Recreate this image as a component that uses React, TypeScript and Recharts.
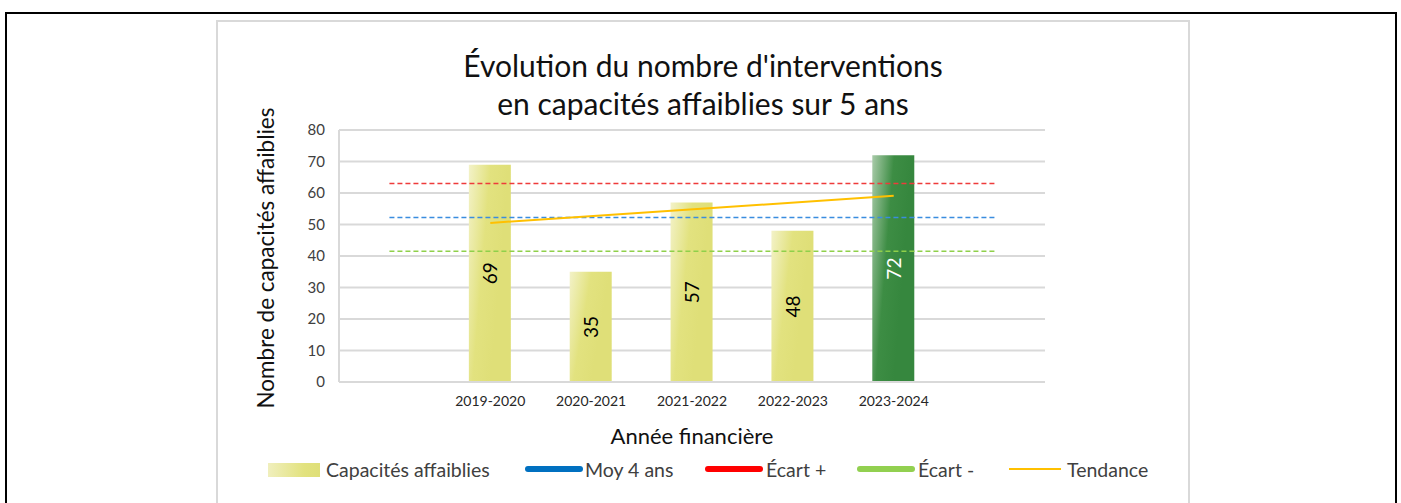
import React from 'react';
import { ComposedChart, Bar, Line, XAxis, YAxis, CartesianGrid, Cell, LabelList } from 'recharts';

const categories = ['', '2019-2020', '2020-2021', '2021-2022', '2022-2023', '2023-2024', ''];
const capacites = [null, 69, 35, 57, 48, 72, null];
const moy4ans = [52.25, 52.25, 52.25, 52.25, 52.25, 52.25, 52.25];
const ecartPlus = [63, 63, 63, 63, 63, 63, 63];
const ecartMoins = [41.5, 41.5, 41.5, 41.5, 41.5, 41.5, 41.5];
const tendance = [null, 50.5, null, null, null, 59.1, null];
const yTicks = [0, 10, 20, 30, 40, 50, 60, 70, 80];
const highlightCategory = '2023-2024';

const data = categories.map((c, i) => ({
  cat: c,
  capacites: capacites[i],
  moy: moy4ans[i],
  plus: ecartPlus[i],
  moins: ecartMoins[i],
  tendance: tendance[i],
}));

const FONT = 'Lato, "Open Sans", sans-serif';

const renderLabel = (props: any) => {
  const { x, y, width, height, value, index } = props;
  if (value == null) return null;
  const cx = Number(x) + Number(width) / 2;
  const cy = Number(y) + Number(height) / 2;
  const isHighlight = index === 5 || value === capacites[5];
  return (
    <text
      x={cx}
      y={cy}
      transform={`rotate(-90 ${cx} ${cy})`}
      textAnchor="middle"
      dominantBaseline="central"
      fontSize={19}
      fontFamily={FONT}
      fill={isHighlight ? '#ffffff' : '#000000'}
    >
      {value}
    </text>
  );
};

const legendItems = [
  { label: 'Capacités affaiblies', kind: 'bar', color: '#e0e07a', left: 268, textLeft: 326 },
  { label: 'Moy 4 ans', kind: 'thick', color: '#0070c0', left: 525, textLeft: 585 },
  { label: 'Écart +', kind: 'thick', color: '#ff0000', left: 705, textLeft: 766 },
  { label: 'Écart -', kind: 'thick', color: '#92d050', left: 857, textLeft: 918 },
  { label: 'Tendance', kind: 'thin', color: '#ffc000', left: 1009, textLeft: 1067 },
];

export default function App() {
  return (
    <div style={{ position: 'absolute', left: 0, top: 0, width: 1401, height: 503, overflow: 'hidden', background: '#ffffff', fontFamily: FONT }}>
      <div style={{ position: 'absolute', left: 5, top: 12, width: 1392, height: 560, border: '2px solid #000', boxSizing: 'border-box' }} />
      <div style={{ position: 'absolute', left: 216, top: 20, width: 974, height: 560, border: '2px solid #d9d9d9', boxSizing: 'border-box' }} />

      <div style={{ position: 'absolute', left: 0, top: 0 }}>
        <ComposedChart width={1401} height={503} data={data} margin={{ top: 130, right: 356, bottom: 91, left: 279 }} barCategoryGap={0}>
          <defs>
            <linearGradient id="gradY" x1="0" y1="0" x2="0.8" y2="0.35">
              <stop offset="0" stopColor="#f3f2c8" />
              <stop offset="0.55" stopColor="#e2e27f" />
              <stop offset="1" stopColor="#dfdf78" />
            </linearGradient>
            <linearGradient id="gradG" x1="0" y1="0" x2="0.8" y2="0.35">
              <stop offset="0" stopColor="#a9cba9" />
              <stop offset="0.55" stopColor="#3d8d44" />
              <stop offset="1" stopColor="#36873e" />
            </linearGradient>
          </defs>
          <CartesianGrid vertical={false} stroke="#d9d9d9" strokeWidth={2} />
          <XAxis
            dataKey="cat"
            tickLine={false}
            tickSize={0}
            tickMargin={14}
            axisLine={{ stroke: '#d9d9d9', strokeWidth: 2 }}
            tick={{ fontSize: 14, fill: '#262626', fontFamily: FONT }}
            interval={0}
          />
          <YAxis
            width={60}
            domain={[0, 80]}
            ticks={yTicks}
            tickLine={false}
            tickSize={0}
            tickMargin={14}
            axisLine={{ stroke: '#d9d9d9', strokeWidth: 2 }}
            tick={{ fontSize: 15, fill: '#404040', fontFamily: FONT }}
          />
          <YAxis
            yAxisId="right"
            orientation="right"
            width={0}
            domain={[0, 80]}
            tick={false}
            tickLine={false}
            axisLine={{ stroke: '#d9d9d9', strokeWidth: 2 }}
          />
          <Bar dataKey="capacites" barSize={42} isAnimationActive={false}>
            {data.map((d, i) => (
              <Cell key={i} fill={d.cat === highlightCategory ? 'url(#gradG)' : 'url(#gradY)'} />
            ))}
            <LabelList dataKey="capacites" content={renderLabel} />
          </Bar>
          <Line dataKey="plus" stroke="#ee3b3b" strokeWidth={1.5} strokeDasharray="5 3" dot={false} activeDot={false} isAnimationActive={false} />
          <Line dataKey="moy" stroke="#3a8ddf" strokeWidth={1.5} strokeDasharray="5 3" dot={false} activeDot={false} isAnimationActive={false} />
          <Line dataKey="moins" stroke="#8fd04a" strokeWidth={1.5} strokeDasharray="5 3" dot={false} activeDot={false} isAnimationActive={false} />
          <Line dataKey="tendance" stroke="#ffc000" strokeWidth={2} dot={false} activeDot={false} connectNulls isAnimationActive={false} />
        </ComposedChart>
      </div>

      <div style={{ position: 'absolute', left: 216, width: 974, top: 46, textAlign: 'center', fontSize: 30, lineHeight: '38px', color: '#111' }}>
        Évolution du nombre d'interventions
        <br />
        en capacités affaiblies sur 5 ans
      </div>

      <div style={{ position: 'absolute', left: 265, top: 258, transform: 'translate(-50%, -50%) rotate(-90deg)', whiteSpace: 'nowrap', fontSize: 22.5, color: '#111' }}>
        Nombre de capacités affaiblies
      </div>

      <div style={{ position: 'absolute', left: 692, top: 435, transform: 'translate(-50%, -50%)', whiteSpace: 'nowrap', fontSize: 22, color: '#111' }}>
        Année financière
      </div>

      {legendItems.map((it) => (
        <React.Fragment key={it.label}>
          {it.kind === 'bar' ? (
            <div style={{ position: 'absolute', left: it.left, top: 463, width: 52, height: 14, background: 'linear-gradient(90deg, #f0efbd 0%, #e2e27e 70%, #dfdf78 100%)' }} />
          ) : it.kind === 'thick' ? (
            <div style={{ position: 'absolute', left: it.left, top: 466, width: 58, height: 6, borderRadius: 3, background: it.color }} />
          ) : (
            <div style={{ position: 'absolute', left: it.left, top: 468, width: 52, height: 2, background: it.color }} />
          )}
          <div style={{ position: 'absolute', left: it.textLeft, top: 469, transform: 'translateY(-50%)', whiteSpace: 'nowrap', fontSize: 19.5, color: '#404040' }}>
            {it.label}
          </div>
        </React.Fragment>
      ))}
    </div>
  );
}
